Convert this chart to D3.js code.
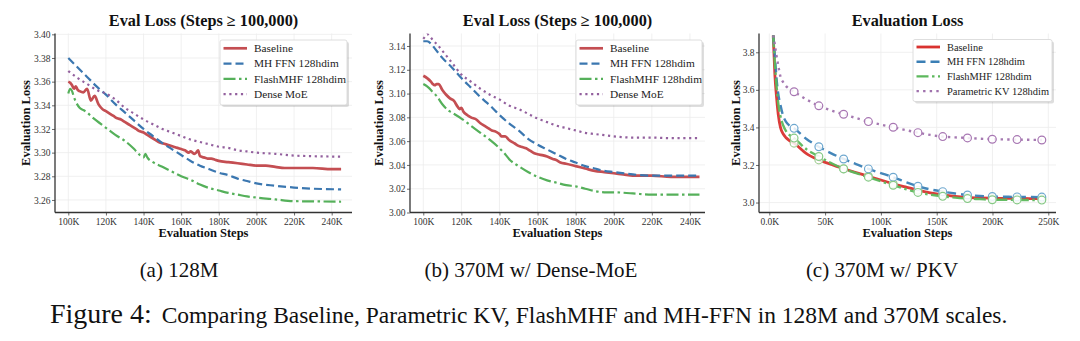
<!DOCTYPE html>
<html><head><meta charset="utf-8">
<script src="https://cdn.jsdelivr.net/npm/d3@7"></script>
<style>
html,body{margin:0;padding:0;background:#fff;}
svg{display:block;font-family:"Liberation Serif","Times New Roman",serif;}
</style></head><body>
<svg id="chart" width="1080" height="341"></svg>
<script>
// ---------------- DATA ----------------
const legendAB = ["Baseline", "MH FFN 128hdim", "FlashMHF 128hdim", "Dense MoE"];
const legendC  = ["Baseline", "MH FFN 128hdim", "FlashMHF 128hdim", "Parametric KV 128hdim"];
const titles = ["Eval Loss (Steps \u2265 100,000)", "Eval Loss (Steps \u2265 100,000)", "Evaluation Loss"];
const xLabel = "Evaluation Steps";
const yLabel = "Evaluation Loss";
const subCaptions = ["(a) 128M", "(b) 370M w/ Dense-MoE", "(c) 370M w/ PKV"];
const figLabel = "Figure 4:";
const figText = "Comparing Baseline, Parametric KV, FlashMHF and MH-FFN in 128M and 370M scales.";

// tick values / labels (steps in thousands)
const xTicksAB = [100, 120, 140, 160, 180, 200, 220, 240];
const xTickLabelsAB = ["100K", "120K", "140K", "160K", "180K", "200K", "220K", "240K"];
const yTicksA = [3.26, 3.28, 3.30, 3.32, 3.34, 3.36, 3.38, 3.40];
const yTickLabelsA = ["3.26", "3.28", "3.30", "3.32", "3.34", "3.36", "3.38", "3.40"];
const yTicksB = [3.00, 3.02, 3.04, 3.06, 3.08, 3.10, 3.12, 3.14];
const yTickLabelsB = ["3.00", "3.02", "3.04", "3.06", "3.08", "3.10", "3.12", "3.14"];
const xTicksC = [0, 50, 100, 150, 200, 250];
const xTickLabelsC = ["0.0K", "50K", "100K", "150K", "200K", "250K"];
const yTicksC = [3.0, 3.2, 3.4, 3.6, 3.8];
const yTickLabelsC = ["3.0", "3.2", "3.4", "3.6", "3.8"];

// ---- panel (a) 128M ----
const stepsA_base = [100,101,102,103,104,105,106,108,110,112,114,116,118,120,122,124,126,128,130,132,134,136,138,140,142,144,146,148,150,152,154,156,158,160,162,164,165,166,167,168,169,170,172,174,176,178,180,185,190,195,200,205,210,215,220,230,240,245];
const baselineA = [3.360,3.359,3.357,3.354,3.356,3.353,3.352,3.351,3.354,3.344,3.348,3.341,3.337,3.335,3.333,3.331,3.329,3.328,3.326,3.324,3.322,3.320,3.318,3.317,3.315,3.313,3.311,3.309,3.308,3.307,3.306,3.305,3.304,3.303,3.302,3.300,3.301,3.300,3.299,3.300,3.302,3.297,3.296,3.295,3.295,3.294,3.293,3.292,3.291,3.290,3.289,3.289,3.288,3.287,3.287,3.287,3.286,3.286];
const stepsA = [100,105,110,115,120,125,130,135,140,145,150,155,160,165,170,175,180,185,190,195,200,210,220,230,245];
const mhffnA = [3.380,3.372,3.364,3.356,3.349,3.341,3.334,3.327,3.320,3.314,3.308,3.303,3.298,3.293,3.289,3.286,3.283,3.281,3.278,3.276,3.274,3.272,3.2705,3.2695,3.269];
const denseMoeA = [3.369,3.363,3.358,3.353,3.350,3.345,3.338,3.333,3.328,3.324,3.320,3.317,3.314,3.311,3.309,3.307,3.305,3.304,3.302,3.301,3.300,3.299,3.2975,3.297,3.2966];
const stepsA_flash = [100,101,102,103,104,106,108,110,112,115,120,125,130,135,138,140,141,142,145,150,155,160,165,170,175,180,185,190,195,200,210,220,230,245];
const flashA = [3.350,3.354,3.352,3.347,3.343,3.338,3.336,3.334,3.331,3.327,3.321,3.315,3.310,3.303,3.298,3.296,3.299,3.296,3.292,3.288,3.284,3.280,3.277,3.273,3.270,3.268,3.266,3.2645,3.263,3.262,3.2605,3.259,3.2588,3.2585];

// ---- panel (b) 370M w/ Dense-MoE ----
const stepsB_base = [100,102,104,105,106,107,108,110,112,114,116,118,119,120,121,123,125,128,130,132,134,136,138,140,141,143,145,148,150,152,154,156,158,160,163,165,168,170,172,175,180,185,190,195,200,205,210,220,230,245];
const baselineB = [3.115,3.113,3.110,3.108,3.107,3.108,3.108,3.103,3.099,3.096,3.094,3.089,3.087,3.088,3.085,3.082,3.080,3.078,3.075,3.073,3.071,3.069,3.068,3.066,3.064,3.064,3.061,3.058,3.056,3.055,3.054,3.052,3.050,3.049,3.048,3.047,3.045,3.044,3.042,3.041,3.039,3.037,3.035,3.034,3.033,3.032,3.031,3.031,3.030,3.030];
const stepsB_mh = [100,102,104,106,108,110,115,120,125,130,135,140,145,150,155,160,165,170,175,180,185,190,195,200,210,220,230,245];
const mhffnB = [3.144,3.144,3.142,3.138,3.134,3.130,3.122,3.113,3.105,3.097,3.090,3.082,3.075,3.069,3.062,3.057,3.053,3.049,3.045,3.042,3.039,3.037,3.035,3.034,3.032,3.031,3.031,3.031];
const stepsB_dense = [100,101,102,103,105,108,110,115,120,125,130,135,140,145,150,155,160,165,170,175,180,185,190,195,200,210,220,230,245];
const denseMoeB = [3.146,3.148,3.150,3.149,3.145,3.140,3.136,3.126,3.116,3.110,3.104,3.099,3.095,3.090,3.087,3.083,3.079,3.076,3.073,3.071,3.069,3.067,3.066,3.065,3.064,3.063,3.063,3.0625,3.0625];
const stepsB_flash = [100,102,104,105,107,110,113,115,120,125,130,135,140,143,145,150,155,160,165,170,175,180,185,190,195,200,210,220,230,245];
const flashB = [3.108,3.106,3.103,3.101,3.098,3.091,3.086,3.084,3.079,3.073,3.067,3.061,3.054,3.049,3.045,3.039,3.034,3.030,3.027,3.025,3.023,3.022,3.020,3.018,3.017,3.017,3.016,3.015,3.015,3.015];

// ---- panel (c) 370M w/ PKV ----
const stepsC = [3.5,5,6.5,8,10,12.5,15,18,22.2,33,44.4,55.5,66.6,77.7,88.8,99.9,111,122,133.2,144.3,155.4,166.5,177.6,188.7,199.8,211,222,233,244.2];
const baselineC = [3.89,3.68,3.56,3.47,3.40,3.365,3.345,3.33,3.316,3.262,3.227,3.203,3.18,3.16,3.14,3.12,3.10,3.083,3.066,3.052,3.041,3.033,3.028,3.025,3.023,3.022,3.022,3.021,3.021];
const mhffnC = [3.89,3.78,3.66,3.58,3.52,3.46,3.43,3.41,3.395,3.34,3.297,3.262,3.232,3.205,3.179,3.157,3.135,3.11,3.087,3.07,3.058,3.048,3.04,3.035,3.032,3.031,3.030,3.0295,3.029];
const flashC = [3.89,3.74,3.62,3.53,3.46,3.41,3.38,3.36,3.343,3.285,3.245,3.21,3.179,3.157,3.135,3.113,3.092,3.072,3.054,3.042,3.033,3.026,3.021,3.018,3.015,3.015,3.014,3.0135,3.013];
const pkvC = [3.89,3.84,3.78,3.73,3.67,3.64,3.62,3.605,3.59,3.55,3.515,3.49,3.47,3.45,3.431,3.415,3.401,3.386,3.372,3.36,3.351,3.347,3.344,3.34,3.337,3.336,3.335,3.334,3.333];
const markerStepsC = [22.2,44.4,66.6,88.8,111,133.2,155.4,177.6,199.8,222,244.2];

// ---------------- STYLES ----------------
const styleAB = [
  {color:"#c44e52", width:2.7, dash:null},
  {color:"#3b77b0", width:2.2, dash:"8,4"},
  {color:"#55b05a", width:2.2, dash:"12,3.5,2.5,3.5"},
  {color:"#93609e", width:2.2, dash:"2.2,3.6"}
];
const styleC = [
  {color:"#d9322f", width:2.8, dash:null, mk:"#a6cf98"},
  {color:"#3a7fb5", width:2.4, dash:"9,5", mk:"#6fa8cf"},
  {color:"#5cb85c", width:2.4, dash:"12,3.5,2.5,3.5", mk:"#86c986"},
  {color:"#a072ad", width:2.4, dash:"2.4,4.2", mk:"#a877b3"}
];

const zip = (xs, ys) => xs.map((x, i) => ({x, y: ys[i]}));

const panels = [
  {
    left:55, right:352, xDom:[92.93,250.8], yDom:[3.2494,3.4007],
    xTicks:xTicksAB, xLabels:xTickLabelsAB, yTicks:yTicksA, yLabels:yTickLabelsA,
    title:titles[0], ylabX:25,
    series:[zip(stepsA_base, baselineA), zip(stepsA, mhffnA), zip(stepsA_flash, flashA), zip(stepsA, denseMoeA)],
    styles:styleAB, legend:legendAB,
    leg:{x:220, y:40, w:127, h:65, row0:48.3, dy:15.3, fs:11.3},
    cap:subCaptions[0], capX:179
  },
  {
    left:410, right:705, xDom:[93.02,247.9], yDom:[3.0,3.1505],
    xTicks:xTicksAB, xLabels:xTickLabelsAB, yTicks:yTicksB, yLabels:yTickLabelsB,
    title:titles[1], ylabX:378,
    series:[zip(stepsB_base, baselineB), zip(stepsB_mh, mhffnB), zip(stepsB_flash, flashB), zip(stepsB_dense, denseMoeB)],
    styles:styleAB, legend:legendAB,
    leg:{x:576, y:40, w:126, h:65, row0:48.3, dy:15.3, fs:11.3},
    cap:subCaptions[1], capX:531
  },
  {
    left:759, right:1056, xDom:[-9.23,256.9], yDom:[2.947,3.90],
    xTicks:xTicksC, xLabels:xTickLabelsC, yTicks:yTicksC, yLabels:yTickLabelsC,
    title:titles[2], ylabX:735, markers:true,
    series:[zip(stepsC, baselineC), zip(stepsC, mhffnC), zip(stepsC, flashC), zip(stepsC, pkvC)],
    styles:styleC, legend:legendC,
    leg:{x:913, y:39.5, w:139, h:62, row0:47, dy:14.7, fs:10.4},
    cap:subCaptions[2], capX:882
  }
];

const TOP = 33.5, BOTTOM = 212.5;
const svg = d3.select("#chart");
const defs = svg.append("defs");

panels.forEach((p, pi) => {
  const x = d3.scaleLinear().domain(p.xDom).range([p.left, p.right]);
  const y = d3.scaleLinear().domain(p.yDom).range([BOTTOM, TOP]);
  const g = svg.append("g");

  // grid
  g.append("g").selectAll("line").data(p.xTicks).join("line")
    .attr("x1", d => x(d)).attr("x2", d => x(d)).attr("y1", TOP).attr("y2", BOTTOM)
    .attr("stroke", "#ececec").attr("stroke-width", 0.8);
  g.append("g").selectAll("line").data(p.yTicks).join("line")
    .attr("x1", p.left).attr("x2", p.right).attr("y1", d => y(d)).attr("y2", d => y(d))
    .attr("stroke", "#ececec").attr("stroke-width", 0.8);

  // clip
  defs.append("clipPath").attr("id", "clip" + pi).append("rect")
    .attr("x", p.left).attr("y", TOP).attr("width", p.right - p.left).attr("height", BOTTOM - TOP);

  const lineGen = d3.line().x(d => x(d.x)).y(d => y(d.y)).curve(d3.curveMonotoneX);
  const lines = g.append("g").attr("clip-path", `url(#clip${pi})`);
  p.series.forEach((s, si) => {
    const st = p.styles[si];
    lines.append("path").datum(s)
      .attr("d", lineGen)
      .attr("fill", "none").attr("stroke", st.color).attr("stroke-width", st.width)
      .attr("stroke-dasharray", st.dash).attr("stroke-linejoin", "round")
      .attr("stroke-opacity", pi === 2 ? 0.95 : 1);
  });
  if (p.markers) {
    p.series.forEach((s, si) => {
      const st = p.styles[si];
      lines.append("g").selectAll("circle").data(s.filter(d => markerStepsC.includes(d.x))).join("circle")
        .attr("cx", d => x(d.x)).attr("cy", d => y(d.y)).attr("r", 3.9)
        .attr("fill", "#fff").attr("fill-opacity", 0.85)
        .attr("stroke", st.mk).attr("stroke-width", 1.2);
    });
  }

  // axes
  const xAxis = d3.axisBottom(x).tickValues(p.xTicks).tickFormat((d, i) => p.xLabels[i]).tickSize(3).tickSizeOuter(0);
  const yAxis = d3.axisLeft(y).tickValues(p.yTicks).tickFormat((d, i) => p.yLabels[i]).tickSize(3).tickSizeOuter(0);
  const gx = g.append("g").attr("transform", `translate(0,${BOTTOM})`).call(xAxis);
  const gy = g.append("g").attr("transform", `translate(${p.left},0)`).call(yAxis);
  [gx, gy].forEach(ax => {
    ax.select(".domain").remove();
    ax.selectAll(".tick line").attr("stroke", "#444").attr("stroke-width", 0.8);
    ax.selectAll(".tick text").attr("fill", "#333").style("font-size", "9.5px")
      .style("font-family", '"Liberation Serif","Times New Roman",serif');
  });
  gx.selectAll(".tick text").attr("dy", null).attr("y", 12.5);
  gy.selectAll(".tick text").attr("x", -4.5).attr("dy", "0.33em");
  g.append("line").attr("x1", p.left).attr("x2", p.left).attr("y1", TOP).attr("y2", BOTTOM)
    .attr("stroke", "#333").attr("stroke-width", 1.3);
  g.append("line").attr("x1", p.left).attr("x2", p.right).attr("y1", BOTTOM).attr("y2", BOTTOM)
    .attr("stroke", "#333").attr("stroke-width", 1.3);

  const cx = (p.left + p.right) / 2;
  g.append("text").attr("x", cx).attr("y", 25.5).attr("text-anchor", "middle")
    .style("font-size", "16.3px").style("font-weight", "bold").attr("fill", "#111").text(p.title);
  g.append("text").attr("x", cx).attr("y", 237).attr("text-anchor", "middle")
    .style("font-size", "12.5px").style("font-weight", "bold").attr("fill", "#111").text(xLabel);
  g.append("text").attr("transform", `translate(${p.ylabX + 4.5},123) rotate(-90)`).attr("text-anchor", "middle")
    .style("font-size", "12.5px").style("font-weight", "bold").attr("fill", "#111").text(yLabel);

  // legend
  const L = p.leg;
  const lg = g.append("g");
  lg.append("rect").attr("x", L.x + 2).attr("y", L.y + 2).attr("width", L.w).attr("height", L.h)
    .attr("rx", 2).attr("fill", "#000").attr("fill-opacity", 0.13);
  lg.append("rect").attr("x", L.x).attr("y", L.y).attr("width", L.w).attr("height", L.h)
    .attr("rx", 2).attr("fill", "#fff").attr("stroke", "#d6d6d6").attr("stroke-width", 0.8);
  p.legend.forEach((name, i) => {
    const st = p.styles[i];
    const yy = L.row0 + i * L.dy;
    lg.append("line").attr("x1", L.x + 3.5).attr("x2", L.x + 27).attr("y1", yy).attr("y2", yy)
      .attr("stroke", st.color).attr("stroke-width", st.width).attr("stroke-dasharray", st.dash);
    lg.append("text").attr("x", L.x + 34).attr("y", yy).attr("dy", "0.34em")
      .style("font-size", L.fs + "px").attr("fill", "#222").text(name);
  });

  // sub caption
  svg.append("text").attr("x", p.capX).attr("y", 276.5).attr("text-anchor", "middle")
    .style("font-size", "21px").attr("fill", "#111").text(p.cap);
});

// figure caption
const fl = svg.append("text").attr("x", 50).attr("y", 323).style("font-size", "26px").attr("fill", "#111").text(figLabel);
const ft = svg.append("text").attr("x", 161.7).attr("y", 323).style("font-size", "22px").attr("fill", "#111").text(figText);
// fit widths to the reference layout
const fitW = (sel, w) => { const L = sel.node().getComputedTextLength(); const fs = parseFloat(sel.style("font-size")); sel.style("font-size", (fs * w / L) + "px"); };
fitW(fl, 101.7);
fitW(ft, 846);
</script>
</body></html>
